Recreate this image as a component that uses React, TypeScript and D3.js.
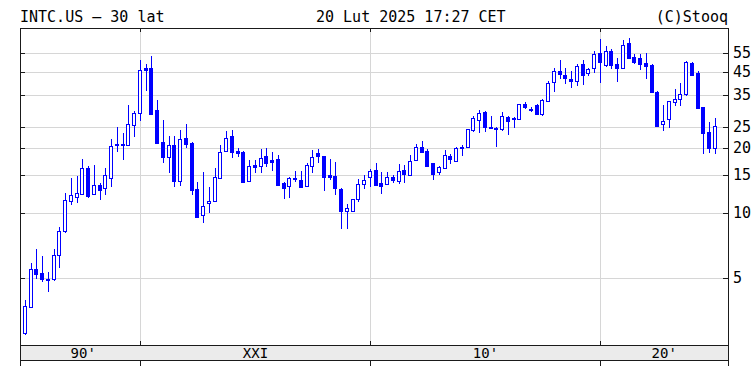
import React from "react";
import * as d3 from "d3";

// Quarterly candles, INTC.US, Q1 1995 .. Q1 2025
const START_YEAR = 1995;
const opens = [
  2.77, 3.68, 5.49, 5.26, 4.93, 4.94, 6.40, 8.24, 11.4, 11.8,
  12.2, 16.1, 12.2, 13.4, 13.0, 14.5, 20.6, 20.8, 20.7, 25.6,
  29.1, 46.7, 46.7, 30.1, 21.3, 18.2, 20.6, 14.0, 22.3, 21.1,
  12.9, 9.78, 11.1, 11.4, 14.5, 19.3, 22.7, 19.3, 19.2, 14.1,
  16.7, 16.4, 18.3, 17.5, 17.7, 13.8, 13.3, 14.5, 14.2, 13.3,
  16.5, 18.9, 18.3, 15.0, 14.8, 12.9, 10.2, 10.2, 11.6, 13.6,
  14.6, 15.8, 13.7, 13.6, 14.6, 14.1, 15.8, 14.9, 17.5, 20.2,
  19.4, 17.0, 15.5, 16.1, 18.3, 17.4, 20.1, 20.1, 24.2, 27.0,
  29.4, 25.1, 24.8, 24.5, 27.7, 27.2, 27.3, 31.9, 30.3, 31.7,
  28.7, 33.0, 40.3, 45.4, 43.5, 41.6, 40.9, 48.9, 44.6, 47.1,
  54.9, 48.2, 56.3, 48.9, 47.1, 61.5, 52.8, 51.9, 49.6, 48.2,
  36.3, 25.8, 27.3, 32.6, 33.8, 35.4, 49.6, 44.5, 30.8, 23.7,
  20.0,
];
const highs = [
  3.93, 5.84, 6.78, 6.31, 5.34, 6.78, 8.62, 12.3, 14.5, 14.8,
  17.8, 16.4, 16.6, 13.8, 16.1, 22.0, 25.1, 23.4, 31.6, 29.6,
  51.0, 48.8, 53.2, 33.3, 26.9, 22.7, 22.7, 24.2, 25.7, 21.3,
  13.9, 15.5, 13.2, 16.1, 20.6, 23.9, 24.2, 19.9, 19.4, 17.5,
  17.5, 19.8, 19.9, 19.2, 18.6, 13.9, 14.7, 15.6, 15.6, 17.0,
  19.6, 19.8, 18.3, 17.7, 17.2, 13.0, 11.0, 11.6, 14.3, 15.0,
  15.9, 17.0, 15.5, 15.4, 15.0, 16.8, 16.7, 18.5, 20.9, 21.5,
  19.7, 17.1, 16.5, 19.6, 18.7, 20.2, 20.6, 24.4, 28.0, 30.1,
  29.6, 28.0, 25.1, 29.2, 28.0, 27.9, 32.1, 32.6, 30.8, 31.9,
  33.6, 40.9, 47.1, 50.8, 47.1, 45.4, 48.9, 51.1, 47.1, 55.9,
  64.1, 59.4, 57.4, 52.3, 63.4, 64.5, 54.4, 54.4, 54.9, 48.9,
  36.5, 31.5, 33.0, 37.4, 39.9, 50.4, 50.1, 45.4, 31.0, 26.4,
  27.5,
];
const lows = [
  2.75, 3.65, 5.02, 4.86, 4.37, 4.90, 5.63, 8.20, 11.0, 11.2,
  12.2, 11.8, 12.2, 11.6, 12.2, 13.3, 19.3, 17.7, 20.6, 22.7,
  26.8, 37.1, 28.7, 21.0, 17.2, 15.5, 13.3, 13.4, 20.1, 12.2,
  9.60, 9.10, 10.1, 11.4, 14.5, 19.3, 18.2, 18.3, 13.9, 14.1,
  15.4, 15.4, 16.4, 15.8, 13.5, 11.7, 11.9, 14.0, 13.2, 13.3,
  15.5, 17.2, 12.8, 14.3, 12.2, 8.50, 8.50, 10.2, 11.4, 13.0,
  13.3, 13.4, 12.4, 13.6, 13.9, 13.7, 13.9, 14.9, 17.5, 19.2,
  16.5, 14.3, 15.1, 16.1, 17.0, 17.4, 18.5, 20.1, 23.9, 23.7,
  23.9, 24.6, 20.3, 24.1, 23.2, 24.9, 27.3, 30.5, 29.6, 28.7,
  28.5, 33.0, 36.8, 42.0, 39.9, 38.1, 39.3, 39.5, 43.5, 45.0,
  40.3, 48.0, 46.7, 40.9, 47.1, 51.9, 49.6, 46.4, 42.3, 36.3,
  25.2, 24.3, 24.9, 31.5, 31.5, 35.3, 43.5, 30.5, 18.9, 19.2,
  18.9,
];
const closes = [
  3.70, 5.49, 5.21, 4.94, 4.96, 6.40, 8.28, 11.5, 12.1, 12.3,
  16.1, 12.0, 13.5, 12.8, 15.0, 20.5, 20.8, 20.9, 25.7, 28.9,
  45.9, 45.9, 28.7, 21.0, 18.2, 20.6, 14.0, 22.1, 20.9, 12.8,
  9.60, 10.8, 11.3, 14.6, 19.2, 22.3, 19.1, 18.9, 13.9, 16.4,
  16.3, 18.0, 17.0, 17.2, 13.5, 13.1, 14.5, 14.3, 13.2, 16.6,
  18.2, 18.3, 14.7, 14.7, 13.0, 10.2, 10.5, 11.6, 13.6, 14.2,
  15.6, 13.4, 13.3, 14.6, 14.2, 15.6, 15.1, 17.4, 20.2, 19.2,
  16.5, 15.1, 16.3, 18.5, 17.7, 19.9, 19.9, 24.4, 27.5, 28.9,
  24.9, 24.8, 24.6, 28.2, 26.7, 27.5, 31.9, 30.8, 30.1, 28.7,
  33.4, 39.9, 45.4, 43.8, 42.0, 40.9, 48.1, 43.5, 46.2, 54.4,
  50.1, 55.9, 48.2, 46.7, 60.1, 52.3, 50.1, 48.9, 47.8, 36.3,
  25.2, 26.6, 32.9, 33.8, 35.4, 50.1, 43.5, 30.5, 23.4, 19.9,
  25.2,
];

const priceTicks = [5, 10, 15, 20, 25, 35, 45, 55];
const decadeYears = [2000, 2010, 2020];
const decadeLabels = ["90'", "XXI", "10'", "20'"];
const titleLeft = "INTC.US \u2013 30 lat";
const titleCenter = "20 Lut 2025 17:27 CET";
const titleRight = "(C)Stooq";

const W = 756;
const H = 366;
const L = 20;
const R = 728;
const T = 28;
const B = 345;
const BAND_B = 360;
const BLUE = "#0000ff";
const GRID = "#d6d6d6";
const FRAME = "#1a1a1a";
const FONT = "'DejaVu Sans Mono', monospace";

export default function App() {
  const x = d3
    .scaleTime()
    .domain([new Date(2000, 0, 1), new Date(2020, 0, 1)])
    .range([140, 600]);
  const y = d3.scaleLog().domain([2.445, 71.8]).range([B, T]);

  const candles = opens.map((o, i) => ({
    date: new Date(START_YEAR, i * 3, 1),
    o,
    h: highs[i],
    l: lows[i],
    c: closes[i],
  }));

  const decadeX = decadeYears.map((yr) => Math.round(x(new Date(yr, 0, 1))) + 0.5);
  const bounds = [L, ...decadeX, R];
  const labelCenters = decadeLabels.map((_, i) => (bounds[i] + bounds[i + 1]) / 2);

  return (
    <svg
      width={W}
      height={H}
      style={{ position: "absolute", left: 0, top: 0, background: "#fff" }}
      fontFamily={FONT}
    >
      <rect x={0} y={0} width={W} height={H} fill="#fff" />
      {/* titles */}
      <text x={L} y={21.5} fontSize={15} fill="#000">
        {titleLeft}
      </text>
      <text x={316} y={21.5} fontSize={15} fill="#000">
        {titleCenter}
      </text>
      <text x={R} y={21.5} fontSize={15} fill="#000" textAnchor="end">
        {titleRight}
      </text>

      {/* grid */}
      <g shapeRendering="crispEdges">
        {priceTicks.map((t) => {
          const yy = Math.round(y(t)) + 0.5;
          return <line key={"g" + t} x1={L} x2={R} y1={yy} y2={yy} stroke={GRID} />;
        })}
        {decadeX.map((xx, i) => (
          <line key={"v" + i} x1={xx} x2={xx} y1={T} y2={B} stroke={GRID} />
        ))}
      </g>

      {/* candles */}
      <g shapeRendering="crispEdges">
        {candles.map((d, i) => {
          const cx = Math.round(x(d.date));
          const up = d.c >= d.o;
          const yTop = Math.round(y(Math.max(d.o, d.c)));
          const yBot = Math.round(y(Math.min(d.o, d.c)));
          const yH = Math.round(y(d.h));
          const yL = Math.round(y(d.l));
          return (
            <g key={i}>
              <line x1={cx + 0.5} x2={cx + 0.5} y1={yH} y2={yL + 1} stroke={BLUE} />
              <rect
                x={cx - 1.5}
                y={yTop + 0.5}
                width={3}
                height={Math.max(yBot - yTop, 1)}
                fill={up ? "#fff" : BLUE}
                stroke={BLUE}
              />
            </g>
          );
        })}
      </g>

      {/* frame & ticks */}
      <g shapeRendering="crispEdges" stroke={FRAME}>
        <rect x={L + 0.5} y={T + 0.5} width={R - L} height={B - T} fill="none" />
        {priceTicks.map((t) => {
          const yy = Math.round(y(t)) + 0.5;
          return (
            <g key={"t" + t}>
              <line x1={L} x2={L + 5} y1={yy} y2={yy} />
              <line x1={R - 5} x2={R} y1={yy} y2={yy} />
            </g>
          );
        })}
        {decadeX.map((xx, i) => (
          <g key={"dt" + i}>
            <line x1={xx} x2={xx} y1={T} y2={T + 4} />
            <line x1={xx} x2={xx} y1={B - 4} y2={B} />
            <line x1={xx} x2={xx} y1={BAND_B} y2={H} />
          </g>
        ))}
        <rect x={L + 0.5} y={B + 0.5} width={R - L} height={BAND_B - B} fill="#ebebeb" />
        <line x1={L + 0.5} x2={L + 0.5} y1={BAND_B} y2={H} />
        <line x1={R + 0.5} x2={R + 0.5} y1={BAND_B} y2={H} />
      </g>

      {/* right axis labels */}
      {priceTicks.map((t) => (
        <text
          key={"l" + t}
          x={733}
          y={Math.round(y(t))}
          fontSize={15}
          dominantBaseline="central"
          fill="#000"
        >
          {t}
        </text>
      ))}

      {/* decade band labels */}
      {decadeLabels.map((lab, i) => (
        <text
          key={"dl" + i}
          x={labelCenters[i] + (i === 0 ? 3 : 0)}
          y={357.5}
          fontSize={14}
          textAnchor="middle"
          fill="#000"
        >
          {lab}
        </text>
      ))}
    </svg>
  );
}
